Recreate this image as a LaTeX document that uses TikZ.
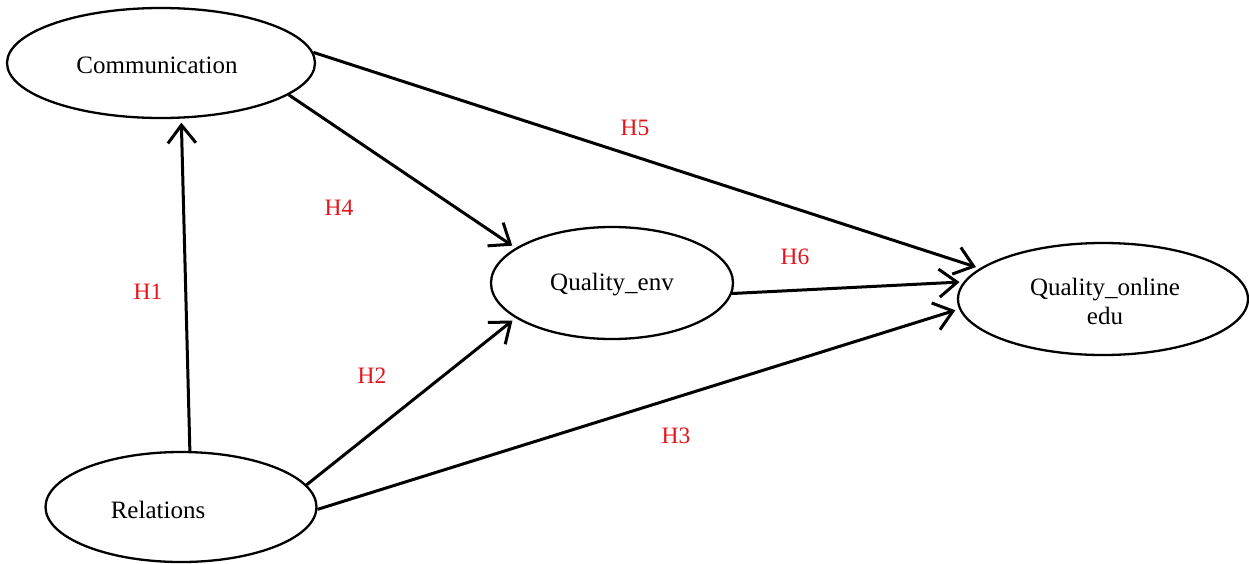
\documentclass[tikz,border=0pt]{standalone}
\usepackage{fontspec}
\setmainfont{Liberation Serif}
\usetikzlibrary{shapes.geometric,arrows.meta}
\definecolor{labred}{HTML}{E3141B}
\begin{document}
\begin{tikzpicture}[x=1pt,y=-1pt,
  construct/.style={draw=black,line width=2.3pt,ellipse,inner sep=0pt},
  ctext/.style={font=\fontsize{25}{29}\selectfont,align=center,inner sep=0pt},
  path/.style={draw=black,line width=3pt,-{Straight Barb[length=18pt,width=28pt,line width=3pt]},shorten >=4pt},
  hyp/.style={text=labred,font=\fontsize{23.5}{25}\selectfont,inner sep=0pt}]
\useasboundingbox (0,0) rectangle (1249,563);
\node[construct,minimum width=308pt,minimum height=110pt] (comm) at (161,63) {};
\node[ctext] (commt) at (157,65) {Communication};
\node[construct,minimum width=271pt,minimum height=110pt] (rel) at (181,507) {};
\node[ctext] (relt) at (158,510) {Relations};
\node[construct,minimum width=242pt,minimum height=112pt] (env) at (612,283) {};
\node[ctext] (envt) at (612,285) {Quality\_env};
\node[construct,minimum width=290pt,minimum height=112pt] (onl) at (1103,299) {};
\node[ctext] (onlt) at (1105,301) {Quality\_online\\edu};

\draw[path] (rel.81) -- (comm.-70);
\draw[path] (comm.-14.6) -- (env.160);
\draw[path] (comm.4.3) -- (onl.166.5);
\draw[path] (env.-5.2) -- (onl.173);
\draw[path] (rel.10.8) -- (env.200);
\draw[path] (rel.-1.3) -- (onl.184.4);

\node[hyp] (h1) at (148,292) {H1};
\node[hyp] (h4) at (339,208) {H4};
\node[hyp] (h5) at (635,128) {H5};
\node[hyp] (h6) at (795,257) {H6};
\node[hyp] (h2) at (372,376) {H2};
\node[hyp] (h3) at (676,436) {H3};
\end{tikzpicture}
\end{document}
